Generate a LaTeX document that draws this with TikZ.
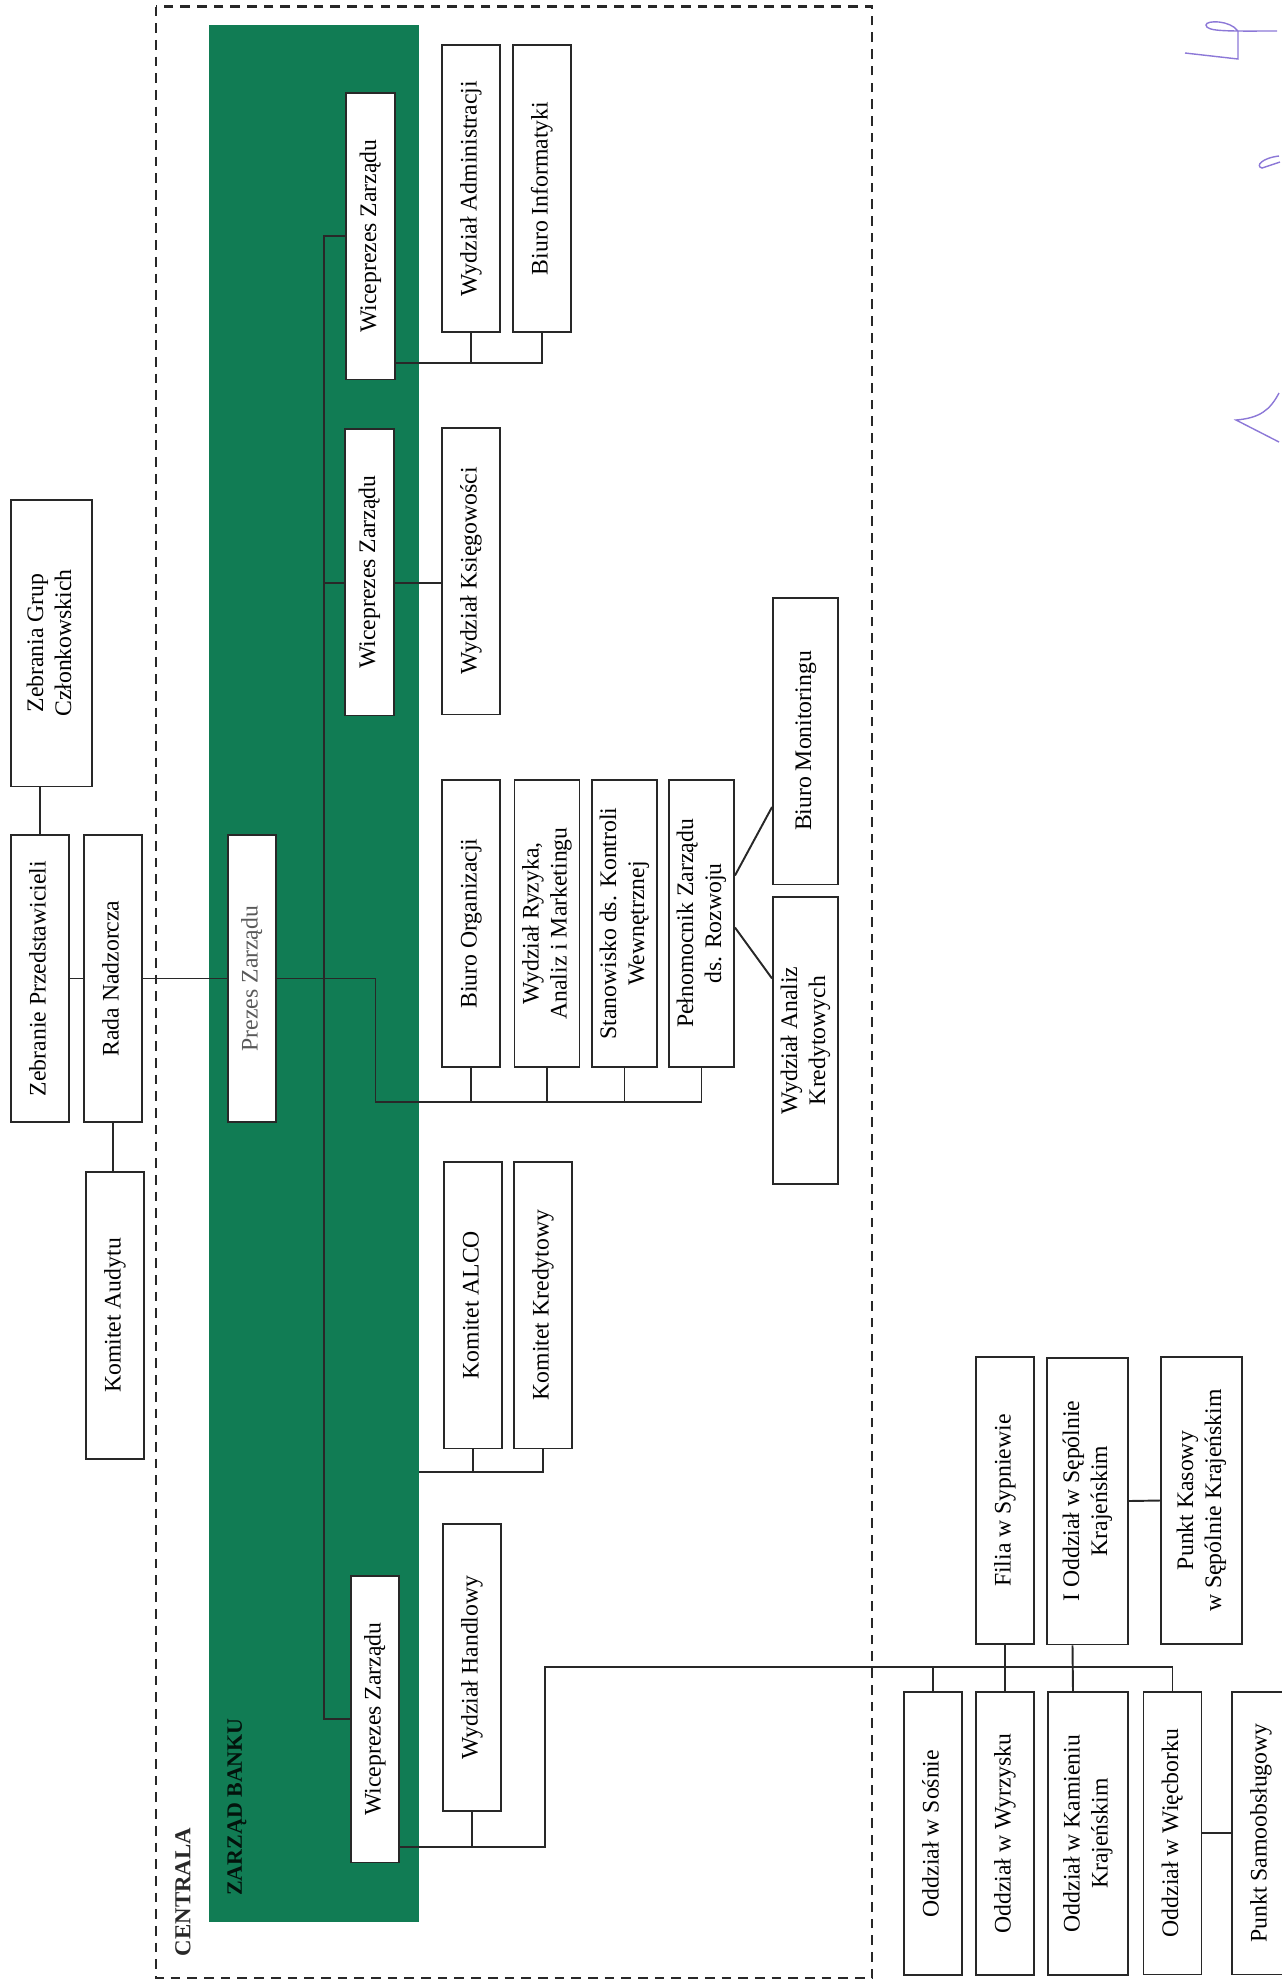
\documentclass[tikz,border=0pt]{standalone}
\usepackage{fontspec}
\setmainfont{Liberation Serif}
\usepackage{graphicx}
\usepackage{tikz}
\usetikzlibrary{calc,positioning}
\definecolor{zarzad}{RGB}{17,124,84}
\definecolor{ramka}{RGB}{40,40,40}
\definecolor{podpis}{RGB}{140,120,215}
\newcommand{\pion}[1]{\rotatebox{90}{\begin{tabular}{@{}c@{}}#1\end{tabular}}}

\begin{document}
\begin{tikzpicture}[x=0.02cm, y=-0.02cm,
    jedn/.style={draw=ramka, line width=1.1pt, fill=white, inner sep=0pt,
      minimum width=1.16cm, minimum height=5.74cm, font=\fontsize{13.5}{16}\selectfont},
    jednW/.style={jedn, minimum width=1.62cm},
    jednM/.style={jedn, minimum width=1.3cm},
    jednV/.style={jedn, minimum width=0.97cm},
    jednN/.style={jedn, minimum height=5.66cm},
    pol/.style={draw=ramka, line width=1.1pt}]
    \useasboundingbox (0,0) rectangle (1282,1979);

    % centrala i zarzad
    \draw[ramka, line width=1.5pt, dash pattern=on 5.5pt off 4pt] (156,6.5) rectangle (872,1978);
    \node[fill=zarzad, inner sep=0pt, minimum width=4.2cm, minimum height=37.94cm] (ZB) at (314,973.5) {};
    \node[rotate=90, font=\fontsize{13}{15}\selectfont\bfseries, text=ramka] (centrala) at (183,1892) {CENTRALA};
    \node[rotate=90, font=\fontsize{12.5}{15}\selectfont\bfseries, text=black!85!zarzad] (zbl) at (237,1807) {ZARZĄD BANKU};

    % organy spoldzielni
    \node[jednW] (ZGC) at (51.5,643) {\pion{Zebrania Grup\\Członkowskich}};
    \node[jedn] (ZP) at (40,978.5) {\pion{Zebranie Przedstawicieli}};
    \node[jedn] (RN) at (113,978.5) {\pion{Rada Nadzorcza}};
    \node[jedn] (KA) at (115,1315.5) {\pion{Komitet Audytu}};

    % zarzad
    \node[jednV, text=black!65] (PZ) at (252,978.5) {\pion{Prezes Zarządu}};
    \node[jednV] (VP3) at (370.5,236) {\pion{Wiceprezes Zarządu}};
    \node[jednV] (VP2) at (369.5,572) {\pion{Wiceprezes Zarządu}};
    \node[jednV] (VP1) at (375,1719) {\pion{Wiceprezes Zarządu}};

    % komorki centrali
    \node[jedn] (WA) at (471,188.5) {\pion{Wydział Administracji}};
    \node[jedn] (BI) at (542,188.5) {\pion{Biuro Informatyki}};
    \node[jedn] (WK) at (471,571) {\pion{Wydział Księgowości}};
    \node[jedn] (BO) at (471,923.5) {\pion{Biuro Organizacji}};
    \node[jednM] (WR) at (547,923.5) {\pion{Wydział Ryzyka,\\Analiz i Marketingu}};
    \node[jednM] (SK) at (624.5,923.5) {\pion{Stanowisko ds. Kontroli\\Wewnętrznej}};
    \node[jednM] (PR) at (701.5,923.5) {\pion{Pełnomocnik Zarządu\\ds. Rozwoju}};
    \node[jednM] (BM) at (805.5,741) {\pion{Biuro Monitoringu}};
    \node[jednM] (WAK) at (805.5,1040.5) {\pion{Wydział Analiz\\Kredytowych}};
    \node[jedn] (KAL) at (473,1305) {\pion{Komitet ALCO}};
    \node[jedn] (KK) at (543,1305) {\pion{Komitet Kredytowy}};
    \node[jedn] (WH) at (472,1667.5) {\pion{Wydział Handlowy}};

    % placowki
    \node[jedn] (FS) at (1005,1500.5) {\pion{Filia w Sypniewie}};
    \node[jednW] (OS1) at (1087.5,1501) {\pion{I Oddział w Sępólnie\\Krajeńskim}};
    \node[jednW] (PK) at (1201.5,1500.5) {\pion{Punkt Kasowy\\w Sępólnie Krajeńskim}};
    \node[jednN] (OSo) at (933,1833.5) {\pion{Oddział w Sośnie}};
    \node[jednN] (OW) at (1005,1833.5) {\pion{Oddział w Wyrzysku}};
    \node[jednN, minimum width=1.6cm] (OK) at (1088,1833.5) {\pion{Oddział w Kamieniu\\Krajeńskim}};
    \node[jednN] (OWi) at (1172.5,1833) {\pion{Oddział w Więcborku}};
    \node[jednN] (PS) at (1261,1833) {\pion{Punkt Samoobsługowy}};

    % polaczenia
    \coordinate (spine) at (324,0);
    \coordinate (bus) at (375.5,1102);
    \coordinate (v3) at ($(VP3.south east)+(0,-17)$);
    \coordinate (v2) at ($(VP2.east)+(0,11)$);
    \coordinate (v1) at ($(VP1.east)+(0,128)$);
    \coordinate (hb) at (545,1667);
    \draw[pol] (ZP.north) -- (ZP.north |- ZGC.south);
    \draw[pol] (ZP.east) -- (RN.west);
    \draw[pol] (RN.east) -- (PZ.west);
    \draw[pol] (RN.south) -- (RN.south |- KA.north);
    \draw[pol] (VP3.west) -| (spine |- VP1.west) -- (VP1.west);
    \draw[pol] ($(VP2.west)+(0,11)$) -- (spine |- v2);
    \draw[pol] (PZ.east) -| (bus) -| (PR.south);
    \foreach \n in {BO,WR,SK}
      \draw[pol] (\n.south) -- (\n.south |- bus);
    \draw[pol] (v3) -| (BI.south);
    \draw[pol] (WA.south) -- (WA.south |- v3);
    \draw[pol] (v2) -- (WK.west |- v2);
    \draw[pol] ($(PR.east)+(0,-48)$) -- ($(BM.west)+(0,66)$);
    \draw[pol] ($(PR.east)+(0,4)$) -- ($(WAK.west)+(0,-62)$);
    \draw[pol] (ZB.east |- 0,1472) -| (KK.south);
    \draw[pol] (KAL.south) -- (KAL.south |- 0,1472);
    \draw[pol] (v1) -| (hb) -| (OWi.north);
    \draw[pol] (WH.south) -- (WH.south |- v1);
    \draw[pol] (FS.south) -- (OW.north);
    \draw[pol] ($(OS1.south)+(-15,0)$) -- ($(OK.north)+(-15,0)$);
    \draw[pol] (OSo.north) -- (OSo.north |- hb);
    \draw[pol] (OS1.east) -- (PK.west);
    \draw[pol] (OWi.east) -- (PS.west);

    % podpis
    \draw[podpis, line width=0.8pt] (1185,53) -- (1238,59) -- (1238,31)
      .. controls (1230,20) and (1206,20) .. (1206,25)
      .. controls (1206,32) and (1230,31) .. (1277,31);
    \draw[podpis, line width=0.8pt] (1279,156) .. controls (1262,158) and (1255,166) .. (1262,168) -- (1280,162);
    \draw[podpis, line width=0.8pt] (1279,393) .. controls (1270,410) and (1260,418) .. (1236,420) -- (1279,442);
\end{tikzpicture}
\end{document}
